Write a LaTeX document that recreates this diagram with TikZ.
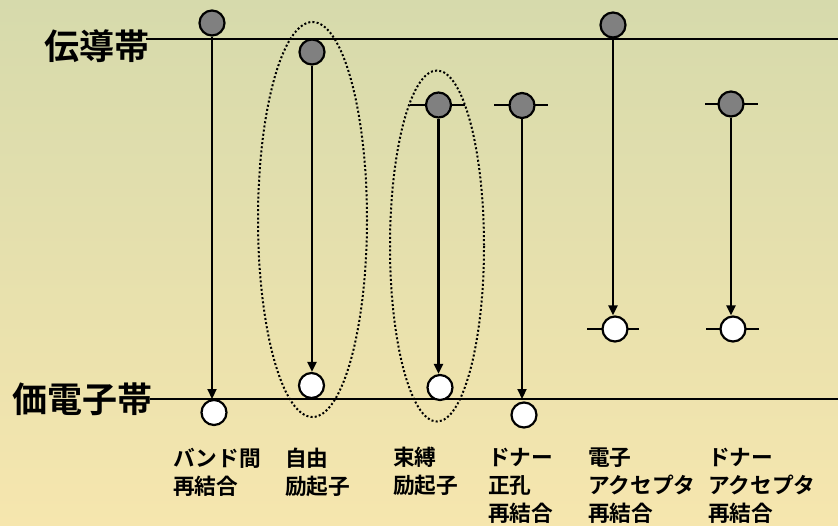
\documentclass[tikz,border=0pt]{standalone}
\usepackage{fontspec}
\newfontfamily\jp{Noto Sans CJK JP}[BoldFont={Noto Sans CJK JP Bold}]
\usetikzlibrary{arrows.meta}
\definecolor{bgtop}{RGB}{214,218,172}
\definecolor{bgbot}{RGB}{246,230,174}
\definecolor{elec}{RGB}{128,128,128}
\tikzset{
  elecdot/.style={circle,draw=black,line width=2.2pt,fill=elec,minimum size=25pt,inner sep=0pt},
  holedot/.style={circle,draw=black,line width=2.2pt,fill=white,minimum size=25pt,inner sep=0pt},
  band/.style={line width=2.2pt},
  tick/.style={line width=1.5pt},
  trans/.style={line width=2.2pt,-{Triangle[length=10pt,width=9pt]}},
  exciton/.style={line width=2pt,dash pattern=on 2pt off 2.2pt},
  bandlabel/.style={font=\jp\bfseries\fontsize{35}{38}\selectfont,anchor=base west,inner sep=0pt},
  proc/.style={font=\jp\bfseries\fontsize{21.7}{28}\selectfont,anchor=base west,inner sep=0pt,align=left},
}
\begin{document}
\begin{tikzpicture}[x=1pt,y=-1pt]
\shade[top color=bgtop,bottom color=bgbot] (0,0) rectangle (838,525);
\useasboundingbox (0,0) rectangle (838,525);

% band labels and lines
\node[bandlabel] (cb) at (44,59) {伝導帯};
\node[bandlabel] (vb) at (12,412) {価電子帯};
\coordinate (cbS) at (146,39);
\coordinate (cbE) at (838,39);
\coordinate (vbS) at (150,399);
\coordinate (vbE) at (838,399);
\draw[band] (cbS) -- (cbE);
\draw[band] (vbS) -- (vbE);

% dotted exciton ellipses
\draw[exciton] (312.5,219.5) ellipse [x radius=54.5, y radius=197.5];
\draw[exciton] (437,246) ellipse [x radius=47, y radius=175.5];

% horizontal level ticks
\draw[tick] (410,105) -- (465,105);
\draw[tick] (494,105) -- (548,105);
\draw[tick] (705,104) -- (758,104);
\draw[tick] (587,329) -- (639,329);
\draw[tick] (706,329) -- (759,329);

% column 1: band-to-band
\node[elecdot] (e1) at (212,23) {};
\node[holedot] (h1) at (214,412.5) {};
\coordinate (v1) at (212,399);
\draw[trans] (e1.south) -- (v1);

% column 2: free exciton
\node[elecdot] (e2) at (312,52) {};
\node[holedot] (h2) at (311.5,385.5) {};
\draw[trans] (e2.south) -- (e2.south |- h2.north);

% column 3: bound exciton
\node[elecdot] (e3) at (438.5,105) {};
\node[holedot] (h3) at (440,387.5) {};
\draw[trans] (e3.south) -- (e3.south |- h3.north);

% column 4: donor - hole
\node[elecdot] (e4) at (522,105.5) {};
\node[holedot] (h4) at (524,415) {};
\coordinate (v4) at (522,399);
\draw[trans] (e4.south) -- (v4);

% column 5: electron - acceptor
\node[elecdot] (e5) at (613,25) {};
\node[holedot] (h5) at (615,329) {};
\draw[trans] (e5.south) -- (e5.south |- h5.north);

% column 6: donor - acceptor
\node[elecdot] (e6) at (731,104) {};
\node[holedot] (h6) at (733,329) {};
\draw[trans] (e6.south) -- (e6.south |- h6.north);

% process labels (anchored at baseline of last line)
\node[proc] (l1) at (173,494) {バンド間\\再結合};
\node[proc] (l2) at (285,494) {自由\\励起子};
\node[proc] (l3) at (393,493) {束縛\\励起子};
\node[proc] (l4) at (488,521) {ドナー\\正孔\\再結合};
\node[proc] (l5) at (588,521) {電子\\アクセプタ\\再結合};
\node[proc] (l6) at (708,521) {ドナー\\アクセプタ\\再結合};
\end{tikzpicture}
\end{document}
